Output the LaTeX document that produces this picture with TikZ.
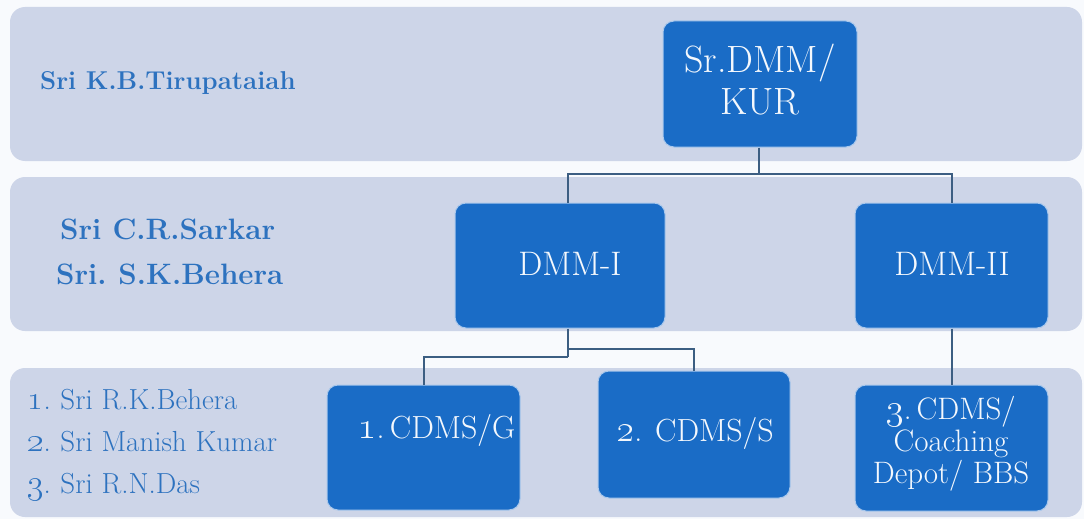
\documentclass[tikz,border=0pt]{standalone}
\usepackage{fix-cm}
\usepackage{graphicx}
\usepackage{tikz}
\definecolor{bgc}{HTML}{F8FAFD}
\definecolor{bandc}{HTML}{CDD5E8}
\definecolor{boxc}{HTML}{1A6CC6}
\definecolor{boxedge}{HTML}{A9C8EC}
\definecolor{boxtxt}{HTML}{F4F8FD}
\definecolor{lbltxt}{HTML}{2D72BF}
\definecolor{linec}{HTML}{3C5E82}
\newcommand{\osnum}[1]{\scalebox{1.2}{\oldstylenums{#1}}}
\begin{document}
\begin{tikzpicture}[x=1pt,y=-1pt,
  band/.style={fill=bandc,draw=none,rounded corners=15pt},
  orgbox/.style={fill=boxc,draw=boxedge,line width=1pt,rounded corners=11pt,text=boxtxt,align=center,inner sep=0pt},
  lbl/.style={text=lbltxt,align=left,inner sep=0pt,anchor=west},
  conn/.style={draw=linec,line width=2pt}]
\fill[bgc] (0,0) rectangle (1084,519);
\useasboundingbox (0,0) rectangle (1084,519);
% bands
\path[band] (10,7) rectangle (1082,161);
\path[band] (10,177) rectangle (1082,331);
\path[band] (10,368) rectangle (1082,517);
% boxes
\node[orgbox,minimum width=194pt,minimum height=126pt] (top) at (760,84) {};
\node[text=boxtxt,align=center,font=\fontsize{38}{42}\selectfont] (toptxt) at (760,80) {Sr.DMM/\\KUR};
\node[orgbox,minimum width=210pt,minimum height=125pt] (d1) at (560,265.5) {};
\node[text=boxtxt,font=\fontsize{34}{38}\selectfont] (d1txt) at (570,264) {DMM-I};
\node[orgbox,minimum width=193pt,minimum height=125pt] (d2) at (951.5,265.5) {};
\node[text=boxtxt,font=\fontsize{34}{38}\selectfont] (d2txt) at (952,264) {DMM-II};
\node[orgbox,minimum width=193pt,minimum height=125pt] (c1) at (423.5,447.5) {};
\node[text=boxtxt,font=\fontsize{32}{36}\selectfont] (c1txt) at (437,430) {\osnum{1}.\,CDMS/G};
\node[orgbox,minimum width=192pt,minimum height=127pt] (c2) at (694,434.5) {};
\node[text=boxtxt,font=\fontsize{32}{36}\selectfont] (c2txt) at (695,433) {\osnum{2}. CDMS/S};
\node[orgbox,minimum width=193pt,minimum height=126pt] (c3) at (951.5,448) {};
\node[text=boxtxt,align=center,font=\fontsize{31}{32}\selectfont] (c3txt) at (951,444) {\osnum{3}.\,CDMS/\\Coaching\\Depot/ BBS};
% labels
\node[lbl,font=\bfseries\fontsize{25.8}{30}\selectfont] (l1) at (40,83) {Sri K.B.Tirupataiah};
\node[lbl,font=\bfseries\fontsize{29.5}{46}\selectfont] (l2) at (60,252) {Sri C.R.Sarkar\\[-1pt]\hspace*{-4pt}Sri.\hspace{-3pt} S.K.Behera};
\node[lbl,font=\fontsize{29}{42}\selectfont] (l3) at (27,445) {\osnum{1}.\hspace{-2pt} Sri R.K.Behera\\\osnum{2}.\hspace{-2pt} Sri Manish Kumar\\\osnum{3}.\hspace{-2pt} Sri R.N.Das};
% connectors
\coordinate (j1) at (759,174);
\coordinate (j2) at (568,357);
\coordinate (j3) at (568,349);
\draw[conn] (top.south -| j1) -- (j1);
\draw[conn] (j1) -| (d1.north -| j2);
\draw[conn] (j1) -| (d2.north);
\draw[conn] (d1.south -| j2) -- (j2);
\draw[conn] (j2) -| (c1.north);
\draw[conn] (j3) -| (c2.north);
\draw[conn] (d2.south) -- (c3.north);
\end{tikzpicture}
\end{document}
